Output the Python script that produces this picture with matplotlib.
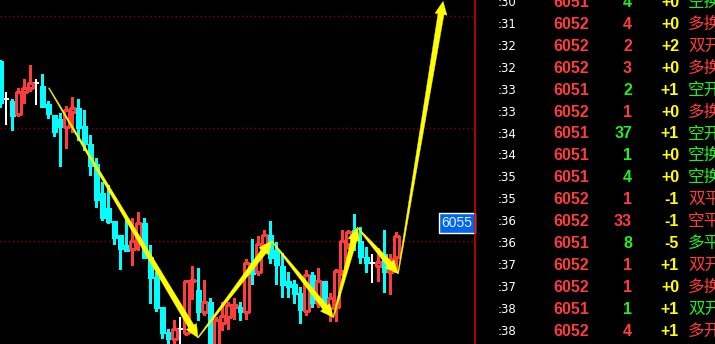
import matplotlib.pyplot as plt
from matplotlib.patches import Rectangle, Polygon
from matplotlib.transforms import IdentityTransform
import numpy as np

W, H = 715, 344

# K线 (开 高 低 收)
opens = [6066.0, 6062.6, 6062.4, 6061.3, 6063.2, 6063.6, 6064.0, 6063.8, 6062.2, 6061.2,
         6060.8, 6060.1, 6061.5, 6061.8, 6060.2, 6058.6, 6056.8, 6054.3, 6052.9, 6051.8,
         6050.5, 6049.6, 6049.3, 6049.9, 6051.6, 6048.6, 6046.8, 6044.1, 6041.9, 6041.3,
         6042.2, 6041.8, 6046.4, 6045.6, 6043.7, 6044.6, 6040.3, 6042.7, 6043.2, 6044.1,
         6044.1, 6043.7, 6048.0, 6047.2, 6049.6, 6050.5, 6049.2, 6047.8, 6046.4, 6046.2,
         6045.4, 6043.8, 6047.0, 6044.5, 6046.4, 6044.0, 6044.1, 6047.3, 6049.7, 6051.0,
         6050.0, 6048.6, 6048.0, 6047.8, 6048.8, 6047.2, 6048.6]
highs = [6066.1, 6063.2, 6062.6, 6063.6, 6064.4, 6065.6, 6064.4, 6064.8, 6062.4, 6061.2,
         6061.4, 6062.0, 6062.8, 6062.6, 6061.6, 6059.4, 6057.4, 6055.2, 6055.0, 6051.8,
         6050.5, 6052.0, 6052.0, 6052.6, 6052.0, 6049.6, 6047.2, 6044.1, 6042.2, 6043.0,
         6043.2, 6046.5, 6047.8, 6047.6, 6046.5, 6044.9, 6043.2, 6044.6, 6044.6, 6044.9,
         6044.6, 6048.4, 6050.2, 6050.4, 6051.0, 6051.8, 6049.9, 6048.9, 6047.2, 6046.5,
         6045.9, 6047.4, 6047.2, 6047.6, 6046.4, 6045.4, 6047.5, 6051.0, 6051.0, 6052.4,
         6051.2, 6049.5, 6048.8, 6049.4, 6051.0, 6048.8, 6050.8]
lows = [6061.9, 6060.3, 6059.9, 6061.1, 6062.3, 6063.3, 6062.1, 6061.9, 6060.9, 6059.3,
        6056.7, 6058.3, 6059.7, 6059.0, 6058.1, 6055.9, 6053.0, 6051.9, 6051.6, 6049.7,
        6047.5, 6049.1, 6047.9, 6049.2, 6048.5, 6044.5, 6043.8, 6041.4, 6040.8, 6040.7,
        6040.7, 6041.6, 6044.8, 6043.0, 6043.4, 6039.9, 6039.9, 6042.1, 6042.2, 6043.1,
        6043.0, 6043.1, 6046.2, 6047.0, 6049.2, 6048.0, 6046.2, 6045.0, 6045.0, 6044.5,
        6042.7, 6043.4, 6044.1, 6044.1, 6043.7, 6042.9, 6042.9, 6047.0, 6049.4, 6049.2,
        6048.0, 6047.2, 6046.3, 6046.4, 6045.5, 6045.3, 6047.2]
closes = [6062.3, 6062.6, 6061.1, 6063.2, 6063.6, 6064.0, 6064.0, 6061.9, 6061.3, 6059.7,
          6060.1, 6061.6, 6061.8, 6060.0, 6058.6, 6056.7, 6053.6, 6052.0, 6051.7, 6050.3,
          6049.3, 6049.1, 6050.0, 6051.6, 6048.5, 6046.7, 6044.0, 6041.8, 6041.3, 6042.2,
          6042.2, 6046.4, 6046.5, 6043.7, 6044.6, 6040.3, 6043.0, 6043.3, 6044.3, 6044.3,
          6043.7, 6048.0, 6047.1, 6049.7, 6050.5, 6048.5, 6047.9, 6046.1, 6045.9, 6045.3,
          6043.9, 6047.0, 6044.5, 6046.4, 6044.0, 6044.9, 6047.3, 6050.0, 6050.8, 6050.1,
          6048.6, 6048.0, 6048.0, 6048.1, 6047.2, 6048.4, 6050.4]

# 画线箭头的拐点 (K线序号, 价格)
arrow_x = [8.1, 32.95, 45.23, 55.5, 59.5, 66.3, 73.8]
arrow_y = [6063.6, 6041.4, 6050.0, 6043.2, 6051.2, 6047.1, 6071.3]

grid_prices = [6050, 6060, 6070]
label_price = 6051.6
label_text = '6055'

# 成交明细
times = [':30', ':31', ':32', ':32', ':33', ':33', ':34', ':34',
         ':35', ':35', ':36', ':36', ':37', ':37', ':38', ':38']
prices = [6051, 6052, 6052, 6052, 6051, 6052, 6051, 6051,
          6051, 6052, 6052, 6051, 6052, 6052, 6051, 6052]
volumes = [4, 4, 2, 3, 2, 1, 37, 1, 4, 1, 33, 8, 1, 1, 1, 4]
changes = ['+0', '+0', '+2', '+0', '+1', '+0', '+1', '+0',
           '+0', '-1', '-1', '-5', '+1', '+0', '+1', '+1']
kinds = ['空换', '多换', '双开', '多换', '空开', '多换', '空开', '空换',
         '空换', '双平', '空平', '多平', '双开', '多换', '双开', '多开']
sides = ['s', 'b', 'b', 'b', 's', 'b', 's', 's',
         's', 'b', 'b', 's', 'b', 'b', 's', 'b']

RED = '#ff3c3c'
CYAN = '#00ffff'
GREEN = '#22ee22'
YELLOW = '#ffff00'

fig = plt.figure(figsize=(W / 100, H / 100), dpi=100, facecolor='black')
chart_w = 475
ax = fig.add_axes([0, 0, chart_w / W, 1])
ax.set_facecolor('black')
ax.set_xlim(-0.05, chart_w / 6 - 0.05)
ax.set_ylim(6071.42 - H / 11.25, 6071.42)
ax.axis('off')

for p in grid_prices:
    ax.axhline(p, color='#900000', lw=1, linestyle=(0, (1, 2)))

bw = 0.8
for i, (o, h, l, c) in enumerate(zip(opens, highs, lows, closes)):
    top, bot = max(o, c), min(o, c)
    if c > o:
        ax.vlines(i, top, h, color=RED, lw=1, antialiased=False)
        ax.vlines(i, l, bot, color=RED, lw=1, antialiased=False)
        ax.add_patch(Rectangle((i - bw / 2, bot), bw, top - bot, facecolor='black',
                               edgecolor=RED, lw=1, antialiased=False, zorder=3))
    elif c < o:
        ax.vlines(i, l, h, color=CYAN, lw=1, antialiased=False)
        ax.add_patch(Rectangle((i - bw / 2, bot), bw, top - bot, facecolor=CYAN,
                               edgecolor=CYAN, lw=0.5, antialiased=False, zorder=3))
    else:
        ax.vlines(i, l, h, color='white', lw=1.2, antialiased=False)
        ax.hlines(o, i - 0.45, i + 0.45, color='white', lw=1.2, antialiased=False)


def tapered_arrow(p0, p1, w0=0.8, w1=6, hw=12, hl=13):
    a = ax.transData.transform(p0)
    b = ax.transData.transform(p1)
    d = (b - a) / np.linalg.norm(b - a)
    n = np.array([-d[1], d[0]])
    base = b - d * hl
    pts = [a + n * w0 / 2, base + n * w1 / 2, base + n * hw / 2, b,
           base - n * hw / 2, base - n * w1 / 2, a - n * w0 / 2]
    ax.add_patch(Polygon(pts, closed=True, facecolor=YELLOW, edgecolor=YELLOW,
                         lw=0.3, transform=IdentityTransform(), zorder=5))


for j in range(len(arrow_x) - 1):
    tapered_arrow((arrow_x[j], arrow_y[j]), (arrow_x[j + 1], arrow_y[j + 1]))

ax.text(chart_w / 6 - 0.45, label_price, label_text, ha='right', va='center',
        color='#e8f4ff', fontsize=10, family='Liberation Sans',
        bbox=dict(boxstyle='square,pad=0.2', facecolor='#0066ee', edgecolor='white', lw=1),
        zorder=6)

fig.add_artist(plt.Line2D([chart_w / W, chart_w / W], [0, 1], color='#d00000', lw=1.2))

# 右侧成交明细
num_font = 'Liberation Sans'
for n in range(len(times)):
    y = 1 - (2.3 + 21.95 * n) / H
    col = RED if sides[n] == 'b' else GREEN
    fig.text(498 / W, y, times[n], color='white', fontsize=8.5, va='center', ha='left')
    fig.text(553 / W, y, str(prices[n]), color=RED, fontsize=11.5, fontweight='bold',
             family=num_font, va='center', ha='left')
    fig.text(632 / W, y, str(volumes[n]), color=col, fontsize=11.5, fontweight='bold',
             family=num_font, va='center', ha='right')
    fig.text(679 / W, y, changes[n], color=YELLOW, fontsize=11.5, fontweight='bold',
             family=num_font, va='center', ha='right')
    fig.text(688 / W, y, kinds[n], color=col, fontsize=12,
             family=['Noto Sans CJK SC', 'DejaVu Sans'], va='center', ha='left')

fig.savefig('out.png', dpi=100, facecolor='black')
